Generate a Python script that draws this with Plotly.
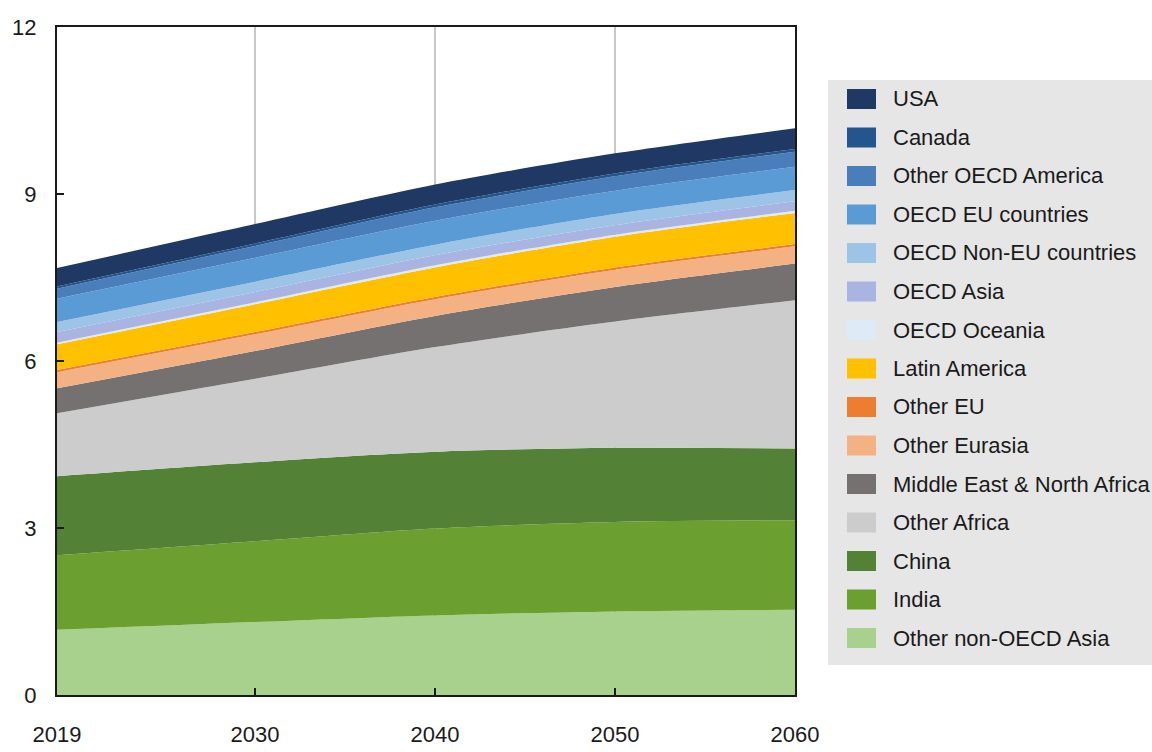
import plotly.graph_objects as go

years = [2019, 2030, 2040, 2050, 2060]

# series ordered bottom to top of the stack (billions of people)
series_names = [
    "Other non-OECD Asia", "India", "China", "Other Africa",
    "Middle East & North Africa", "Other Eurasia", "Other EU", "Latin America",
    "OECD Oceania", "OECD Asia", "OECD Non-EU countries", "OECD EU countries",
    "Other OECD America", "Canada", "USA",
]
other_non_oecd_asia = [1.17, 1.31, 1.43, 1.50, 1.53]
india = [1.34, 1.45, 1.56, 1.61, 1.61]
china = [1.42, 1.42, 1.38, 1.33, 1.29]
other_africa = [1.13, 1.50, 1.88, 2.27, 2.66]
mena = [0.45, 0.50, 0.56, 0.62, 0.66]
other_eurasia = [0.29, 0.30, 0.30, 0.31, 0.31]
other_eu = [0.04, 0.04, 0.04, 0.04, 0.04]
latin_america = [0.46, 0.50, 0.53, 0.55, 0.56]
oecd_oceania = [0.03, 0.035, 0.04, 0.04, 0.04]
oecd_asia = [0.19, 0.185, 0.18, 0.17, 0.17]
oecd_non_eu = [0.18, 0.185, 0.19, 0.20, 0.20]
oecd_eu = [0.42, 0.43, 0.43, 0.42, 0.42]
other_oecd_america = [0.18, 0.21, 0.24, 0.26, 0.27]
canada = [0.04, 0.045, 0.05, 0.05, 0.05]
usa = [0.33, 0.35, 0.36, 0.36, 0.37]

series_values = [
    other_non_oecd_asia, india, china, other_africa, mena, other_eurasia,
    other_eu, latin_america, oecd_oceania, oecd_asia, oecd_non_eu, oecd_eu,
    other_oecd_america, canada, usa,
]
colors = [
    "#a9d18e", "#6b9f30", "#538135", "#cccccc", "#767171", "#f4b183",
    "#ed7d31", "#ffc000", "#deebf7", "#a9b4e2", "#9dc3e6", "#5b9bd5",
    "#4a7ebb", "#24558c", "#1f3864",
]

FONT = "Liberation Sans, Arial, sans-serif"
W, H = 1152, 752
ML, MR, MT, MB = 57, 357, 27, 57
PW, PH = W - ML - MR, H - MT - MB


def px_to_paper(x, y):
    return (x - ML) / PW, (H - MB - y) / PH


fig = go.Figure()
for name, vals, col in zip(series_names, series_values, colors):
    fig.add_trace(go.Scatter(
        x=years, y=vals, name=name, mode="lines",
        stackgroup="one", line=dict(width=0, color=col, shape="spline", smoothing=0.8),
        fillcolor=col, showlegend=False,
    ))

# manual legend (top item = last series)
shapes = []
annotations = []
x0, y0 = px_to_paper(828, 80)
x1, y1 = px_to_paper(1152, 665)
shapes.append(dict(type="rect", xref="paper", yref="paper", x0=x0, x1=x1, y0=y1, y1=y0,
                   fillcolor="#e6e6e6", line=dict(width=0), layer="below"))
for k, (name, col) in enumerate(zip(series_names[::-1], colors[::-1])):
    cy = 99 + k * 38.5
    sx0, sy0 = px_to_paper(847, cy - 10)
    sx1, sy1 = px_to_paper(876, cy + 10)
    shapes.append(dict(type="rect", xref="paper", yref="paper", x0=sx0, x1=sx1,
                       y0=sy1, y1=sy0, fillcolor=col, line=dict(width=0)))
    tx, ty = px_to_paper(891, cy)
    annotations.append(dict(xref="paper", yref="paper", x=tx, y=ty, text=name,
                            showarrow=False, xanchor="left", yanchor="middle",
                            font=dict(family=FONT, size=22, color="#1a1a1a")))

fig.update_layout(
    width=W, height=H,
    margin=dict(l=ML, r=MR, t=MT, b=MB, autoexpand=False),
    plot_bgcolor="white", paper_bgcolor="white",
    font=dict(family=FONT, size=22, color="#1a1a1a"),
    showlegend=False,
    shapes=shapes, annotations=annotations,
)
fig.update_xaxes(
    range=[2019, 2060], tickvals=[2019, 2030, 2040, 2050, 2060],
    showgrid=True, gridcolor="#c8c8c8", gridwidth=2,
    showline=True, linecolor="#1a1a1a", linewidth=2, mirror=True,
    ticks="inside", ticklen=7, tickwidth=2, tickcolor="#1a1a1a",
    ticklabelstandoff=19, zeroline=False,
)
fig.update_yaxes(
    range=[0, 12], tickvals=[0, 3, 6, 9, 12],
    showgrid=False,
    showline=True, linecolor="#1a1a1a", linewidth=2, mirror=True,
    ticks="inside", ticklen=7, tickwidth=2, tickcolor="#1a1a1a",
    ticklabelstandoff=14, zeroline=False,
)

fig.write_html(
    "out.html",
    config={"displayModeBar": False},
    post_script="document.body.style.margin='0';document.body.style.overflow='hidden';",
)
